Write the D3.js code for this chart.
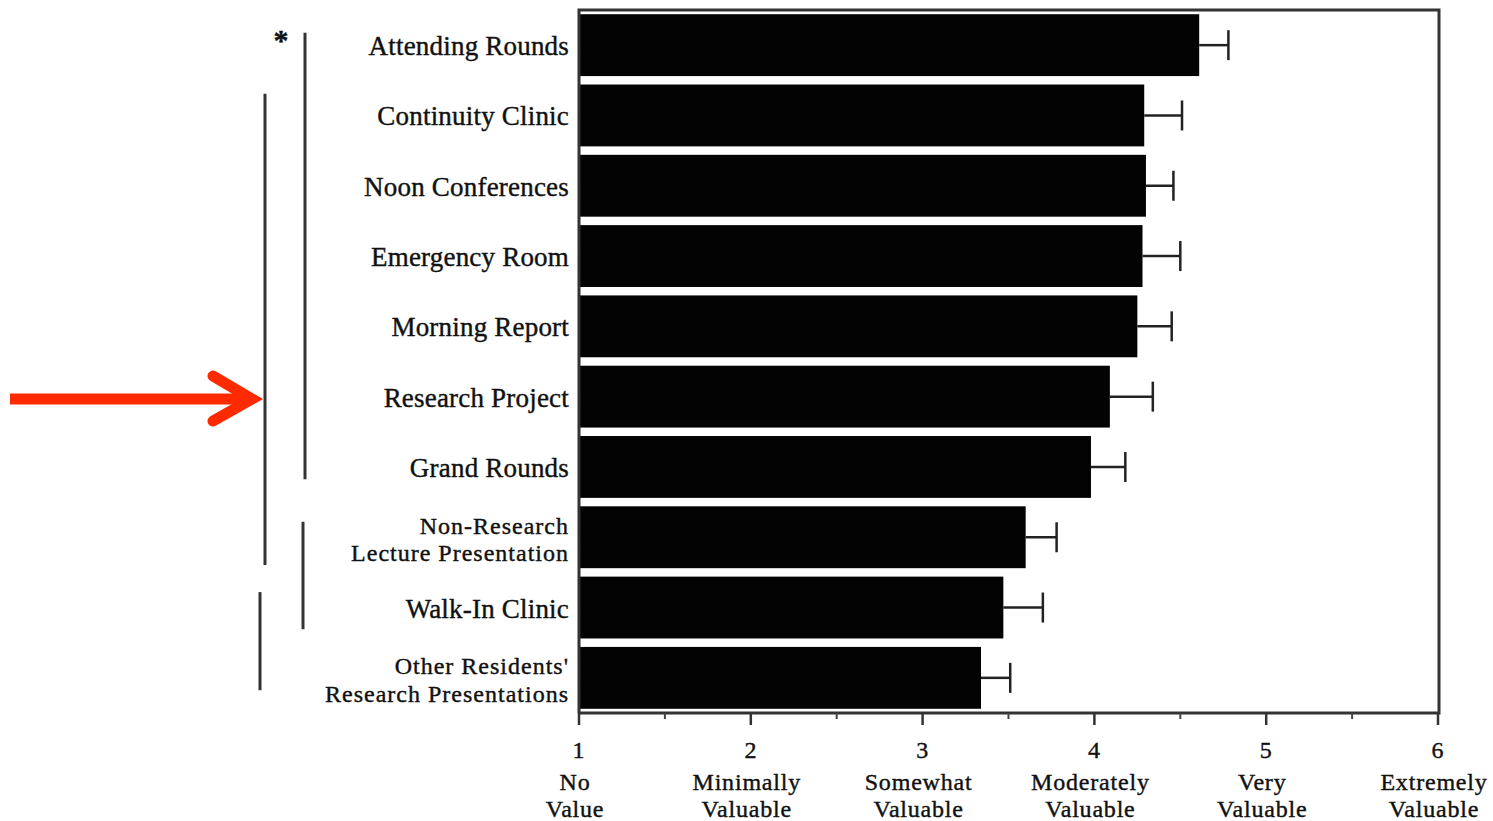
<!DOCTYPE html>
<html>
<head>
<meta charset="utf-8">
<script src="https://cdn.jsdelivr.net/npm/d3@7"></script>
<style>
  body { margin: 0; background: #fff; }
  svg text { font-family: "Liberation Serif", "DejaVu Serif", serif; fill: #111; stroke: #111; stroke-width: 0.4px; }
</style>
</head>
<body>
<svg id="chart" width="1493" height="821"></svg>
<script>
// Activities rated by residents (mean value score, with error)
const activities = [
    "Attending Rounds",
    "Continuity Clinic",
    "Noon Conferences",
    "Emergency Room",
    "Morning Report",
    "Research Project",
    "Grand Rounds",
    "Non-Research\nLecture Presentation",
    "Walk-In Clinic",
    "Other Residents'\nResearch Presentations"
];
const meanScores = [4.61, 4.29, 4.30, 4.28, 4.25, 4.09, 3.98, 3.60, 3.47, 3.34];
const errors = [0.17, 0.22, 0.16, 0.22, 0.20, 0.25, 0.20, 0.18, 0.23, 0.17];

const tickValues = [1, 2, 3, 4, 5, 6];
const tickNames = ["No\nValue", "Minimally\nValuable", "Somewhat\nValuable",
    "Moderately\nValuable", "Very\nValuable", "Extremely\nValuable"];

// significance brackets: [first activity index, last activity index]
const brackets = [[0, 6], [1, 7], [7, 8], [8, 9]];

const svg = d3.select("#chart");

const plotLeft = 579, plotRight = 1439, plotTop = 10, plotBottom = 713;

const x = d3.scaleLinear().domain([1, 6]).range([plotLeft, plotRight - 1]);
const y = d3.scaleBand()
    .domain(activities)
    .range([plotTop, plotBottom])
    .paddingInner(0.12)
    .paddingOuter(0.06);

const data = activities.map((a, i) => ({ name: a, mean: meanScores[i], err: errors[i] }));

// bars
svg.selectAll(".bar")
    .data(data)
    .enter()
    .append("rect")
    .attr("class", "bar")
    .attr("x", x(1))
    .attr("y", d => y(d.name))
    .attr("width", d => x(d.mean) - x(1))
    .attr("height", y.bandwidth())
    .attr("fill", "#030303");

// error bars
const eb = svg.selectAll(".err")
    .data(data)
    .enter()
    .append("g")
    .attr("class", "err")
    .attr("stroke", "#222")
    .attr("stroke-width", 2.5);
eb.append("line")
    .attr("x1", d => x(d.mean))
    .attr("x2", d => x(d.mean + d.err))
    .attr("y1", d => y(d.name) + y.bandwidth() / 2)
    .attr("y2", d => y(d.name) + y.bandwidth() / 2);
eb.append("line")
    .attr("x1", d => x(d.mean + d.err))
    .attr("x2", d => x(d.mean + d.err))
    .attr("y1", d => y(d.name) + y.bandwidth() / 2 - 15)
    .attr("y2", d => y(d.name) + y.bandwidth() / 2 + 15);

// frame
svg.append("path")
    .attr("d", `M${plotLeft},${plotBottom} V${plotTop} H${plotRight} V${plotBottom} H${plotLeft}`)
    .attr("fill", "none")
    .attr("stroke", "#333")
    .attr("stroke-width", 3);

// x axis ticks (major + half-step minor)
const xAxis = svg.append("g").attr("transform", `translate(0,${plotBottom})`);
xAxis.selectAll(".minor")
    .data(d3.range(1.5, 6, 1))
    .enter()
    .append("line")
    .attr("x1", d => x(d)).attr("x2", d => x(d))
    .attr("y1", 0).attr("y2", 6)
    .attr("stroke", "#444").attr("stroke-width", 2);
xAxis.selectAll(".major")
    .data(tickValues)
    .enter()
    .append("line")
    .attr("x1", d => x(d)).attr("x2", d => x(d))
    .attr("y1", 0).attr("y2", 12)
    .attr("stroke", "#333").attr("stroke-width", 2.5);

const tl = xAxis.selectAll(".tlabel")
    .data(tickValues)
    .enter()
    .append("text")
    .attr("text-anchor", "middle")
    .attr("font-size", 24)
    .attr("letter-spacing", 0.8);
tl.append("tspan")
    .attr("x", d => x(d))
    .attr("y", 45)
    .text(d => d);
tl.each(function (d, i) {
    tickNames[i].split("\n").forEach((line, k) => {
        d3.select(this).append("tspan")
            .attr("x", x(d) - 4)
            .attr("y", 77 + k * 27)
            .text(line);
    });
});

// category labels (two-line ones set a little smaller, like the original)
const labels = svg.selectAll(".label")
    .data(activities)
    .enter()
    .append("text")
    .attr("class", "label")
    .attr("text-anchor", "end")
    .attr("font-size", d => d.includes("\n") ? 24 : 27)
    .attr("letter-spacing", d => d.includes("\n") ? 1 : 0.2);
labels.each(function (d) {
    const lines = d.split("\n");
    const cy = y(d) + y.bandwidth() / 2;
    lines.forEach((line, k) => {
        d3.select(this).append("tspan")
            .attr("x", 569)
            .attr("y", cy + 10 + (k - (lines.length - 1) / 2) * 27.5)
            .text(line);
    });
});

// significance brackets on the left
const bx = [305, 265, 303, 260];
const bp = [[0.3, 0.7], [0.15, 0.95], [0.25, 0.85], [0.25, 0.7]];
svg.selectAll(".bracket")
    .data(brackets)
    .enter()
    .append("line")
    .attr("x1", (d, i) => bx[i]).attr("x2", (d, i) => bx[i])
    .attr("y1", (d, i) => y(activities[d[0]]) + y.bandwidth() * bp[i][0])
    .attr("y2", (d, i) => y(activities[d[1]]) + y.bandwidth() * bp[i][1])
    .attr("stroke", "#333")
    .attr("stroke-width", 3);

svg.append("text")
    .attr("x", 281).attr("y", 50)
    .attr("text-anchor", "middle")
    .attr("font-size", 30)
    .attr("font-weight", "bold")
    .text("*");

// red pointer arrow
const arrow = svg.append("g")
    .attr("fill", "none")
    .attr("stroke", "#ff2a00")
    .attr("stroke-width", 11);
arrow.append("line")
    .attr("x1", 10).attr("x2", 250)
    .attr("y1", 399).attr("y2", 399);
arrow.append("path")
    .attr("d", "M213,376 L252,399 L213,421")
    .attr("stroke-linecap", "round")
    .attr("stroke-linejoin", "miter");
</script>
</body>
</html>
